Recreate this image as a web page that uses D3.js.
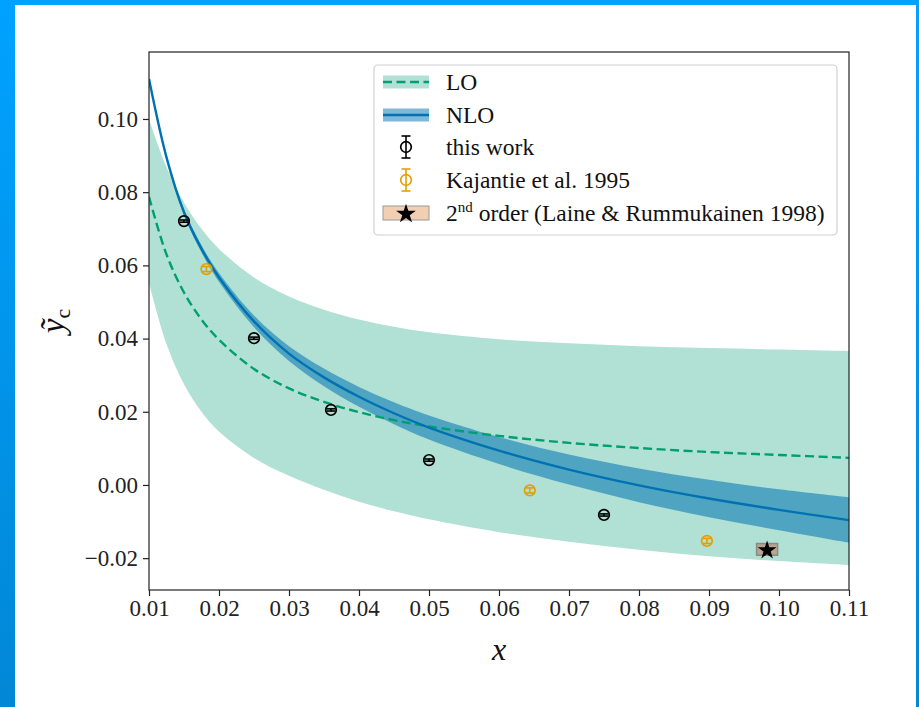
<!DOCTYPE html>
<html><head><meta charset="utf-8">
<script src="https://cdn.jsdelivr.net/npm/d3@7"></script>
<style>
html,body{margin:0;padding:0;background:#fff;}
svg{display:block;}
</style></head>
<body>
<svg id="c" width="919" height="707"></svg>
<script>
// ---- data ----
const xGrid   = [0.01, 0.0125, 0.015, 0.0175, 0.02, 0.025, 0.03, 0.035, 0.04, 0.045, 0.05, 0.06, 0.07, 0.08, 0.09, 0.10, 0.11];
const loMid   = [0.0787, 0.0630, 0.0526, 0.0452, 0.0397, 0.0317, 0.0264, 0.0227, 0.0199, 0.0177, 0.0160, 0.0134, 0.0115, 0.0101, 0.0090, 0.0082, 0.0074];
const loHigh  = [0.1000, 0.0868, 0.0772, 0.0700, 0.0645, 0.0567, 0.0515, 0.0479, 0.0452, 0.0432, 0.0417, 0.0398, 0.0387, 0.0379, 0.0374, 0.0370, 0.0366];
const loLow   = [0.0552, 0.0385, 0.0275, 0.0200, 0.0146, 0.0074, 0.0025, -0.0013, -0.0046, -0.0072, -0.0094, -0.0129, -0.0155, -0.0177, -0.0195, -0.0208, -0.0219];
const nloMid  = [0.1109, 0.0895, 0.0745, 0.0645, 0.0567, 0.0447, 0.0359, 0.0294, 0.0241, 0.0196, 0.0157, 0.0094, 0.0042, -0.0001, -0.0037, -0.0068, -0.0096];
const nloHigh = [0.1113, 0.0901, 0.0753, 0.0655, 0.0579, 0.0463, 0.0379, 0.0318, 0.0268, 0.0226, 0.0190, 0.0131, 0.0083, 0.0045, 0.0014, -0.0012, -0.0034];
const nloLow  = [0.1105, 0.0889, 0.0737, 0.0635, 0.0555, 0.0431, 0.0339, 0.0270, 0.0214, 0.0166, 0.0124, 0.0057, 0.0001, -0.0047, -0.0088, -0.0124, -0.0158];

const thisWorkX   = [0.015, 0.025, 0.036, 0.05, 0.075];
const thisWorkY   = [0.0721, 0.0401, 0.0205, 0.0068, -0.0082];
const thisWorkErr = [0.0003, 0.0003, 0.0003, 0.0003, 0.0003];

const kajX   = [0.0182, 0.0644, 0.0897];
const kajY   = [0.0590, -0.0015, -0.0153];
const kajErr = [0.0007, 0.0007, 0.0007];

const starX = [0.0983], starY = [-0.0176], starXErr = [0.0015], starYErr = [0.0016];

const xTicks = [0.01,0.02,0.03,0.04,0.05,0.06,0.07,0.08,0.09,0.10,0.11];
const yTicks = [-0.02, 0.00, 0.02, 0.04, 0.06, 0.08, 0.10];
const legendLabels = ["LO", "NLO", "this work", "Kajantie et al. 1995", "order (Laine & Rummukainen 1998)"];

// ---- layout ----
const svg = d3.select("#c");
const L = 149, R = 849, T = 52, B = 590;
const FONT = "'Liberation Serif', 'Times New Roman', serif";
const cTeal = "#009e73", cBlue = "#0072b2", cOrange = "#e69f00", cPeach = "#d55e00";

// frame
const defs = svg.append("defs");
const g1 = defs.append("linearGradient").attr("id","bar").attr("x1",0).attr("y1",0).attr("x2",0).attr("y2",1);
g1.append("stop").attr("offset","0%").attr("stop-color","#00a2ff");
g1.append("stop").attr("offset","100%").attr("stop-color","#0287d6");
svg.append("rect").attr("x",0).attr("y",0).attr("width",919).attr("height",707).attr("fill","#fff");
svg.append("rect").attr("x",0).attr("y",0).attr("width",919).attr("height",5).attr("fill","#00a2ff");
svg.append("rect").attr("x",0).attr("y",0).attr("width",15).attr("height",707).attr("fill","url(#bar)");
svg.append("rect").attr("x",916).attr("y",0).attr("width",3).attr("height",707).attr("fill","url(#bar)");

const x = d3.scaleLinear().domain([0.01, 0.11]).range([L, R]);
const y = d3.scaleLinear().domain([-0.0287, 0.1183]).range([B, T]);

defs.append("clipPath").attr("id","clip").append("rect")
  .attr("x",L).attr("y",T).attr("width",R-L).attr("height",B-T);
const plot = svg.append("g").attr("clip-path","url(#clip)");

const idx = d3.range(xGrid.length);
const curve = d3.curveCatmullRom.alpha(0.5);
const area = (lo, hi) => d3.area().curve(curve).x(i => x(xGrid[i])).y0(i => y(lo[i])).y1(i => y(hi[i]));
const line = (arr) => d3.line().curve(curve).x(i => x(xGrid[i])).y(i => y(arr[i]));

plot.append("path").attr("d", area(loLow, loHigh)(idx)).attr("fill", cTeal).attr("fill-opacity", 0.31);
plot.append("path").attr("d", area(nloLow, nloHigh)(idx)).attr("fill", cBlue).attr("fill-opacity", 0.55);
plot.append("path").attr("d", line(loMid)(idx)).attr("fill","none").attr("stroke", cTeal)
  .attr("stroke-width", 2.4).attr("stroke-dasharray","9,4.5");
plot.append("path").attr("d", line(nloMid)(idx)).attr("fill","none").attr("stroke", cBlue).attr("stroke-width", 2.4);

function errPoint(g, cx, cy, yTop, yBot, color) {
  g.append("line").attr("x1",cx).attr("x2",cx).attr("y1",yTop).attr("y2",yBot).attr("stroke",color).attr("stroke-width",1.6);
  [yTop, yBot].forEach(v => g.append("line").attr("x1",cx-4.5).attr("x2",cx+4.5).attr("y1",v).attr("y2",v)
    .attr("stroke",color).attr("stroke-width",1.6));
  g.append("circle").attr("cx",cx).attr("cy",cy).attr("r",5.3).attr("fill","none").attr("stroke",color).attr("stroke-width",1.7);
}
const pts = svg.append("g");
thisWorkX.forEach((v,i) => errPoint(pts, x(v), y(thisWorkY[i]), y(thisWorkY[i]+thisWorkErr[i]), y(thisWorkY[i]-thisWorkErr[i]), "#000"));
kajX.forEach((v,i) => errPoint(pts, x(v), y(kajY[i]), y(kajY[i]+kajErr[i]), y(kajY[i]-kajErr[i]), cOrange));

const star = d3.symbol().type(d3.symbolStar);
starX.forEach((v,i) => {
  pts.append("rect").attr("x", x(v - starXErr[i])).attr("y", y(starY[i] + starYErr[i]))
    .attr("width", x(v + starXErr[i]) - x(v - starXErr[i])).attr("height", y(starY[i] - starYErr[i]) - y(starY[i] + starYErr[i]))
    .attr("fill", "#b8a590").attr("stroke", "#8a8a8a").attr("stroke-width", 1.5);
  pts.append("path").attr("d", star.size(110)()).attr("transform", `translate(${x(v)},${y(starY[i])+1})`).attr("fill","#000");
});

// axes
svg.append("rect").attr("x",L).attr("y",T).attr("width",R-L).attr("height",B-T).attr("fill","none").attr("stroke","#222").attr("stroke-width",1.2);
const xa = svg.append("g").attr("transform",`translate(0,${B})`)
  .call(d3.axisBottom(x).tickValues(xTicks).tickSize(6).tickPadding(4).tickFormat(d3.format(".2f")));
const ya = svg.append("g").attr("transform",`translate(${L},0)`)
  .call(d3.axisLeft(y).tickValues(yTicks).tickSize(6).tickPadding(5).tickFormat(d => d3.format(".2f")(d).replace("-", "\u2212")));
[xa, ya].forEach(a => {
  a.select(".domain").remove();
  a.selectAll(".tick line").attr("stroke","#222").attr("stroke-width",1.2);
  a.selectAll(".tick text").attr("font-family", FONT).attr("font-size", 23).attr("fill","#222");
});

// axis labels
svg.append("text").attr("x", (L+R)/2).attr("y", 660).attr("text-anchor","middle")
  .attr("font-family", FONT).attr("font-style","italic").attr("font-size", 32).attr("fill","#111").text("x");
const yl = svg.append("text").attr("transform", `translate(64,${(T+B)/2}) rotate(-90)`).attr("text-anchor","middle")
  .attr("font-family", FONT).attr("font-size", 33).attr("fill","#111");
yl.append("tspan").attr("font-style","italic").text("\u1EF9");
yl.append("tspan").attr("font-size", 22).attr("dy", 6).text("c");

// legend
const lg = svg.append("g").attr("font-family", FONT).attr("font-size", 23.5).attr("fill","#111");
lg.append("rect").attr("x",374).attr("y",65).attr("width",463).attr("height",170).attr("rx",4)
  .attr("fill","#fff").attr("fill-opacity",0.85).attr("stroke","#d0d0d0").attr("stroke-width",1.2);
const rows = [82, 115, 147, 180, 213];
const hx0 = 383, hx1 = 429, hxc = (hx0+hx1)/2, tx = 446;
lg.append("rect").attr("x",hx0).attr("y",rows[0]-6.5).attr("width",hx1-hx0).attr("height",13).attr("fill",cTeal).attr("fill-opacity",0.31);
lg.append("line").attr("x1",hx0).attr("x2",hx1).attr("y1",rows[0]).attr("y2",rows[0]).attr("stroke",cTeal).attr("stroke-width",2.4).attr("stroke-dasharray","9,4.5");
lg.append("rect").attr("x",hx0).attr("y",rows[1]-6.5).attr("width",hx1-hx0).attr("height",13).attr("fill",cBlue).attr("fill-opacity",0.5);
lg.append("line").attr("x1",hx0).attr("x2",hx1).attr("y1",rows[1]).attr("y2",rows[1]).attr("stroke",cBlue).attr("stroke-width",2.4);
errPoint(lg, hxc, rows[2], rows[2]-11, rows[2]+11, "#000");
errPoint(lg, hxc, rows[3], rows[3]-11, rows[3]+11, cOrange);
lg.append("rect").attr("x",hx0).attr("y",rows[4]-7).attr("width",hx1-hx0).attr("height",14).attr("fill",cPeach).attr("fill-opacity",0.3).attr("stroke","#999").attr("stroke-width",1);
lg.append("path").attr("d", star.size(120)()).attr("transform",`translate(${hxc},${rows[4]+1})`).attr("fill","#000");

legendLabels.forEach((t,i) => {
  const te = lg.append("text").attr("x", tx).attr("y", rows[i]+8);
  if (i === 4) {
    te.append("tspan").text("2");
    te.append("tspan").attr("font-size", 15).attr("dy", -9).text("nd");
    te.append("tspan").attr("dy", 9).text(" " + t);
  } else te.text(t);
});
</script>
</body></html>
